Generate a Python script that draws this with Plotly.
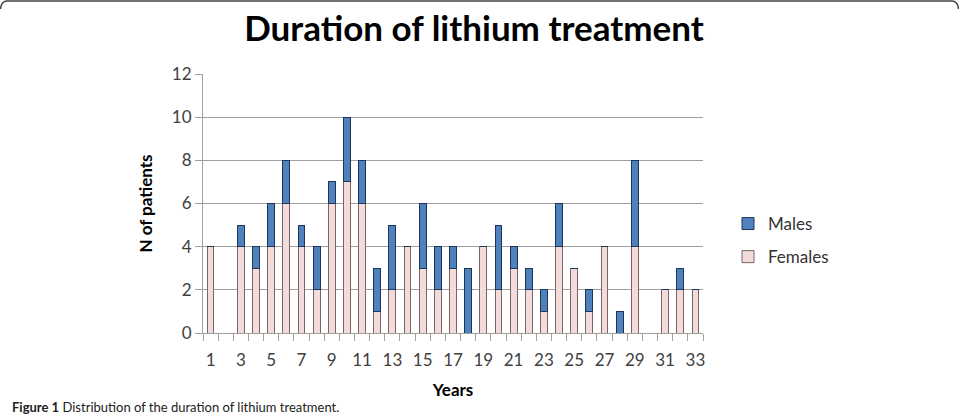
import plotly.graph_objects as go

years = list(range(1, 34))
females = [4, 0, 4, 3, 4, 6, 4, 2, 6, 7, 6, 1, 2, 4, 3, 2, 3, 0, 4, 2, 3, 2, 1, 4, 3, 1, 4, 0, 4, 0, 2, 2, 2]
males = [0, 0, 1, 1, 2, 2, 1, 2, 1, 3, 2, 2, 3, 0, 3, 2, 1, 3, 0, 3, 1, 1, 1, 2, 0, 1, 0, 1, 4, 0, 0, 1, 0]
x_tick_vals = list(range(1, 34, 2))
x_tick_text = [str(v) for v in x_tick_vals]
y_tick_vals = list(range(0, 13, 2))

W, H = 959, 414
L, R, T, B = 203, 256, 74, 81
pw, ph = W - L - R, H - T - B


def px(xp):
    return (xp - L) / pw


def py(yp):
    return (H - B - yp) / ph


font = "Lato, 'Open Sans', sans-serif"
grid = "#a0a0a0"

fig = go.Figure()
fig.add_trace(go.Bar(
    x=years, y=females, name="Females", width=0.45,
    marker=dict(color="#f2dcdb", line=dict(color="#7a6464", width=1)),
    legendgroup="f", legendrank=2,
))
fig.add_trace(go.Bar(
    x=years, y=males, name="Males", width=0.45,
    marker=dict(color="#4f81bd", line=dict(color="#1d3557", width=1)),
    legendgroup="m", legendrank=1,
))

shapes = [dict(
    type="path", xref="paper", yref="paper",
    path=(f"M {px(0.5)},{py(9)} Q {px(1)},{py(1.5)} {px(7)},{py(1)} "
          f"L {px(952)},{py(1)} Q {px(958)},{py(1.5)} {px(958.5)},{py(9)}"),
    line=dict(color="#444444", width=1.5),
)]

fig.update_layout(
    width=W, height=H,
    margin=dict(l=L, r=R, t=T, b=B),
    paper_bgcolor="white", plot_bgcolor="white",
    barmode="stack",
    title=dict(text="<b>Duration of lithium treatment</b>", xref="container",
               x=474 / W, xanchor="center",
               y=1 - 29 / H, yanchor="middle",
               font=dict(family=font, size=35, color="#000000")),
    font=dict(family=font, color="#404040"),
    showlegend=True,
    legend=dict(
        x=px(728), y=py(206), xanchor="left", yanchor="top",
        traceorder="grouped", tracegroupgap=8,
        font=dict(family=font, size=17, color="#333333"),
        bgcolor="rgba(0,0,0,0)",
        itemwidth=30,
    ),
    xaxis=dict(
        range=[0.5, 33.5],
        tickmode="array", tickvals=x_tick_vals, ticktext=x_tick_text,
        ticks="", showgrid=False,
        showline=True, linecolor=grid, linewidth=1,
        tickfont=dict(family=font, size=17, color="#404040"),
        ticklabelstandoff=12,
        minor=dict(tickmode="linear", tick0=0.5, dtick=1, ticks="outside",
                   ticklen=7, tickcolor=grid, showgrid=False),
        title=dict(text="<b>Years</b>", font=dict(family=font, size=17, color="#000000"),
                   standoff=14),
        zeroline=False,
    ),
    yaxis=dict(
        range=[0, 12],
        tickmode="array", tickvals=y_tick_vals,
        ticks="outside", ticklen=7, tickcolor=grid,
        showgrid=True, gridcolor=grid, gridwidth=1.2,
        showline=True, linecolor=grid, linewidth=1,
        tickfont=dict(family=font, size=17, color="#404040"),
        title=dict(text="<b>N of patients</b>", font=dict(family=font, size=17, color="#000000"),
                   standoff=14),
        zeroline=False,
    ),
    shapes=shapes,
    annotations=[dict(
        text="<b>Figure 1</b> Distribution of the duration of lithium treatment.",
        xref="paper", yref="paper", x=px(10), y=py(397),
        xanchor="left", yanchor="top", showarrow=False,
        font=dict(family=font, size=13, color="#222222"),
    )],
)

fig.write_html("out.html")
